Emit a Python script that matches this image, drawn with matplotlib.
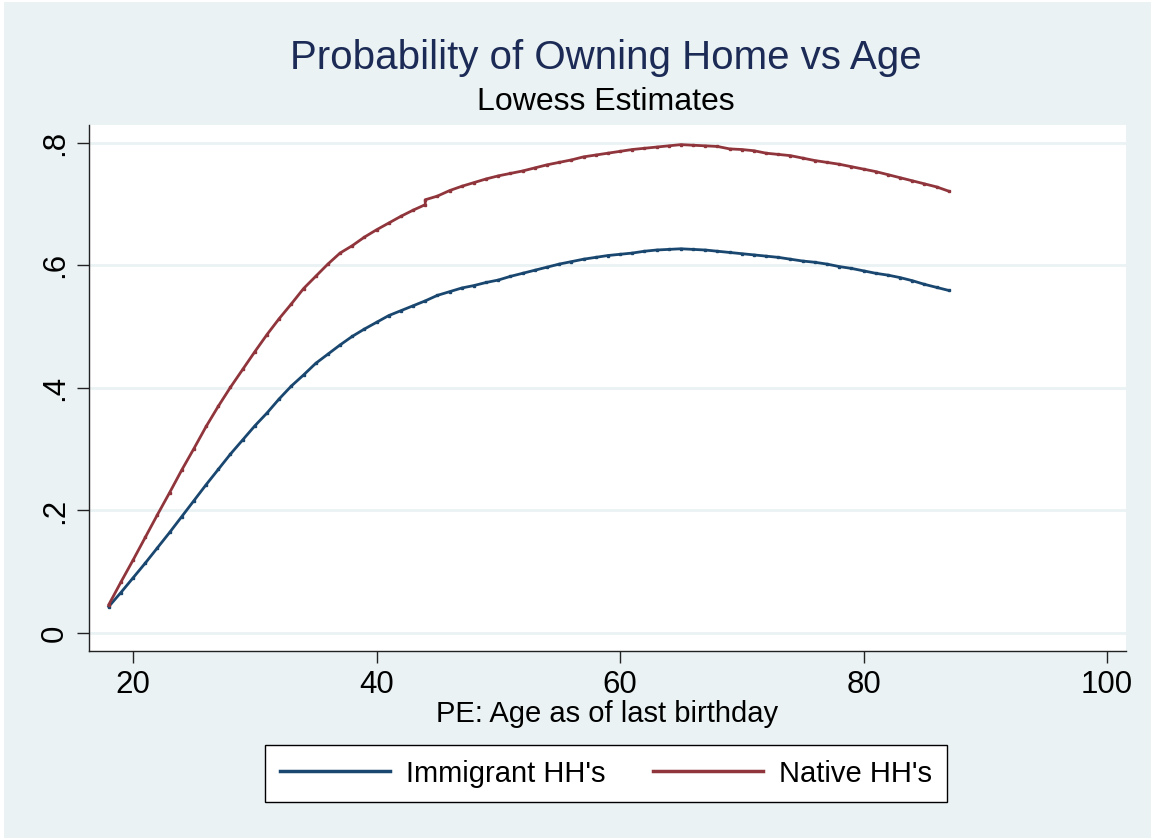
import matplotlib
matplotlib.use("Agg")
import matplotlib.pyplot as plt
from matplotlib.patches import Rectangle

plt.rcParams['font.family'] = ['Liberation Sans', 'DejaVu Sans']

# Lowess estimates of home ownership probability by age
ages_native = [18, 19, 20, 21, 22, 23, 24, 25, 26, 27, 28, 29, 30, 31, 32, 33, 34, 35,
               36, 37, 38, 39, 40, 41, 42, 43, 44, 44, 45, 46, 47, 48, 49, 50, 51, 52,
               53, 54, 55, 56, 57, 58, 59, 60, 61, 62, 63, 64, 65, 66, 67, 68, 69, 70,
               71, 72, 73, 74, 75, 76, 77, 78, 79, 80, 81, 82, 83, 84, 85, 86, 87]
native = [0.046, 0.083, 0.119, 0.156, 0.193, 0.229, 0.266, 0.301, 0.337, 0.370,
          0.401, 0.430, 0.459, 0.487, 0.513, 0.537, 0.562, 0.582, 0.602, 0.620,
          0.632, 0.646, 0.658, 0.669, 0.680, 0.690, 0.699, 0.707, 0.713, 0.722,
          0.729, 0.735, 0.741, 0.746, 0.750, 0.754, 0.759, 0.764, 0.768, 0.772,
          0.777, 0.780, 0.783, 0.786, 0.789, 0.791, 0.793, 0.795, 0.797, 0.796,
          0.795, 0.794, 0.790, 0.789, 0.787, 0.783, 0.781, 0.779, 0.775, 0.771,
          0.768, 0.765, 0.761, 0.757, 0.753, 0.748, 0.743, 0.738, 0.733, 0.728,
          0.721]

ages_immig = list(range(18, 88))
immigrant = [0.043, 0.066, 0.090, 0.114, 0.139, 0.164, 0.190, 0.216, 0.242, 0.267,
             0.292, 0.315, 0.338, 0.359, 0.382, 0.403, 0.421, 0.440, 0.455, 0.470,
             0.484, 0.496, 0.507, 0.518, 0.526, 0.534, 0.542, 0.551, 0.557, 0.563,
             0.567, 0.572, 0.576, 0.582, 0.587, 0.592, 0.597, 0.602, 0.606, 0.610,
             0.613, 0.616, 0.618, 0.620, 0.623, 0.625, 0.626, 0.627, 0.626, 0.625,
             0.623, 0.621, 0.619, 0.617, 0.615, 0.613, 0.610, 0.607, 0.605, 0.602,
             0.598, 0.595, 0.591, 0.587, 0.584, 0.580, 0.575, 0.569, 0.564, 0.559]

x_ticks = [20, 40, 60, 80, 100]
y_ticks = [0, 0.2, 0.4, 0.6, 0.8]
y_tick_labels = ["0", ".2", ".4", ".6", ".8"]

NAVY = "#1A476F"
MAROON = "#90353B"
BG = "#EAF2F3"

fig = plt.figure(figsize=(11.51, 8.38), dpi=100, facecolor="white")
fig.patches.append(Rectangle((4 / 1151, 0), 1, 1 - 2 / 838, transform=fig.transFigure,
                             facecolor=BG, edgecolor="none", zorder=-10))

ax = fig.add_axes([89 / 1151, 1 - 651 / 838, (1126 - 89) / 1151, (651 - 125) / 838])
ax.set_facecolor("white")

ax.plot(ages_immig, immigrant, color=NAVY, lw=2.0, marker="s", markersize=1.5,
        label="Immigrant HH's", zorder=3)
ax.plot(ages_native, native, color=MAROON, lw=2.0, marker="s", markersize=1.5,
        label="Native HH's", zorder=3)

ax.set_xlim(16.38, 101.56)
ax.set_ylim(-0.0294, 0.829)
ax.set_xticks(x_ticks)
ax.set_yticks(y_ticks)
ax.set_yticklabels(y_tick_labels, rotation=90, va="center")
ax.tick_params(axis="both", direction="out", length=8.6, width=1.0, colors="#222222",
               labelsize=22.5, labelcolor="black")
ax.tick_params(axis="y", pad=5)
ax.tick_params(axis="x", pad=5)
ax.yaxis.grid(True, color=BG, lw=2.0)
ax.set_axisbelow(True)
for side in ("top", "right"):
    ax.spines[side].set_visible(False)
for side in ("left", "bottom"):
    ax.spines[side].set_color("#222222")
    ax.spines[side].set_linewidth(1.0)

ax.set_xlabel("PE: Age as of last birthday", fontsize=21, labelpad=0)

fig.text(606 / 1151, 1 - 58 / 838, "Probability of Owning Home vs Age", ha="center",
         va="center", fontsize=29, color="#1C2B56")
fig.text(606 / 1151, 1 - 102 / 838, "Lowess Estimates", ha="center", va="center",
         fontsize=23, color="black")

leg = fig.legend(loc="center", bbox_to_anchor=(606 / 1151, 1 - 773.5 / 838), ncol=2,
                 fontsize=21, handlelength=3.8, handletextpad=0.55, columnspacing=1.6,
                 frameon=True, fancybox=False, framealpha=1.0, borderpad=0.5,
                 borderaxespad=0)
leg.get_frame().set_edgecolor("black")
leg.get_frame().set_linewidth(1.0)
leg.get_frame().set_facecolor("white")
for h in leg.get_lines():
    h.set_marker("")
    h.set_linewidth(2.5)

fig.savefig("out.png", dpi=100, facecolor=fig.get_facecolor())
